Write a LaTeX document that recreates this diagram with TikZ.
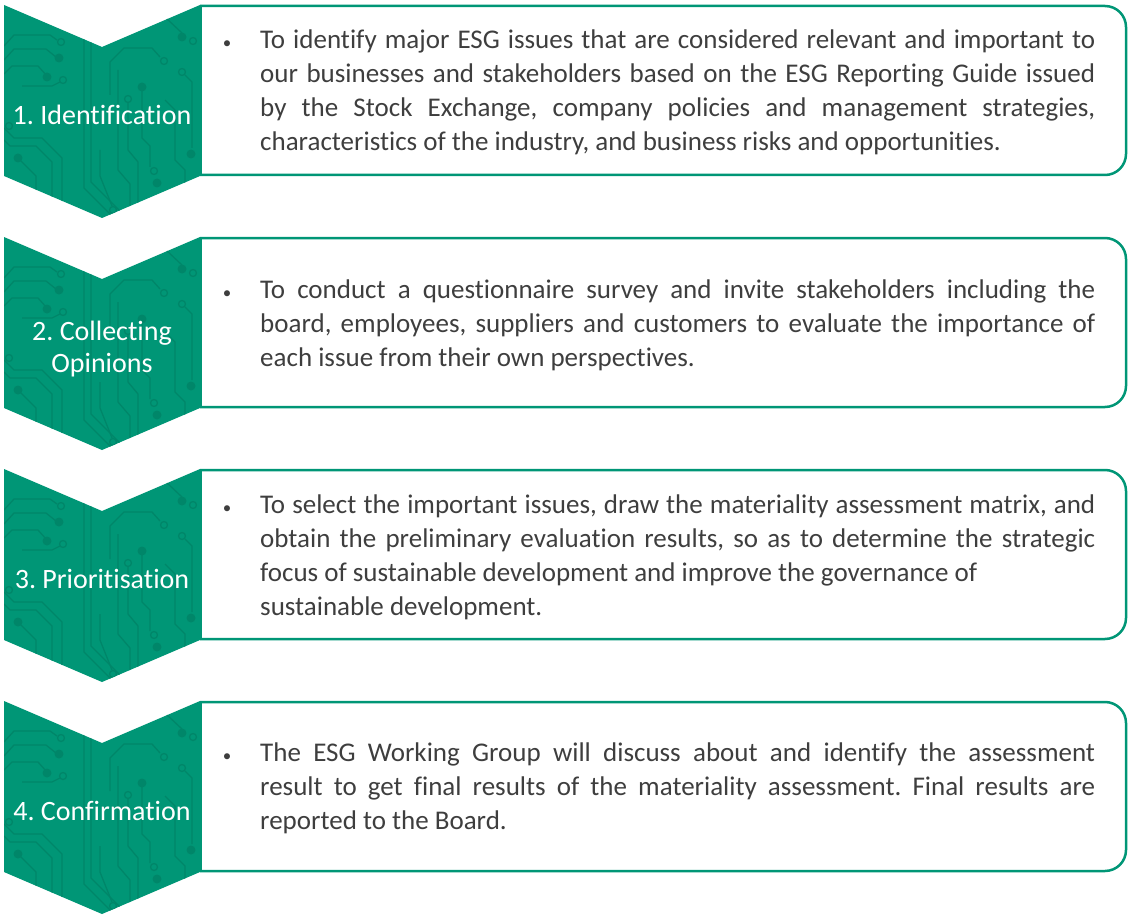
\documentclass[tikz,border=0pt]{standalone}
\usepackage{fontspec}
\setmainfont{Carlito}[Ligatures=CommonOff]
\frenchspacing
\definecolor{esggreen}{RGB}{0,150,118}
\definecolor{esgtrace}{RGB}{0,134,105}
\definecolor{esgtext}{RGB}{62,62,62}

\begin{document}
\begin{tikzpicture}[x=1pt,y=-1pt,
    steplabel/.style={text=white,align=center,inner sep=0pt,
      font=\fontsize{28}{32}\selectfont},
    stepbody/.style={anchor=west,text=esgtext,text width=835pt,align=justify,
      inner sep=0pt,font=\fontsize{27}{34}\selectfont},
    stepdot/.style={anchor=base,text=esgtext,inner sep=0pt,
      font=\fontsize{17}{17}\selectfont},
    stepframe/.style={draw=esggreen,line width=2.5pt},
    trace/.style={draw=esgtrace,line width=1.3pt},
    pad/.style={draw=esgtrace,line width=1.3pt},
    via/.style={fill=esgtrace}]
\useasboundingbox (0,0) rectangle (1128,915);

% frames and chevrons, one per step
\foreach \dy in {0,232,464,696}{
  \begin{scope}[yshift=-\dy pt]
    \draw[stepframe,rounded corners=21pt] (200,6) -- (1126,6) -- (1126,175) -- (200,175);
    \fill[esggreen] (4,5) -- (102,47) -- (200,5) -- (200,176) -- (102,218) -- (4,176) -- cycle;
    \begin{scope}
      \clip (4,5) -- (102,47) -- (200,5) -- (200,176) -- (102,218) -- (4,176) -- cycle;
      % circuit traces
      \draw[trace] (4,46) -- (14,35) -- (50,35) -- (57,40);
      \draw[pad] (61,42) circle (3.5);
      \draw[trace] (4,60) -- (14,49) -- (46,49) -- (56,57);
      \fill[via] (59,58) circle (4.5);
      \draw[trace] (4,74) -- (12,66) -- (38,66) -- (47,76);
      \fill[via] (47,77) circle (4.5);
      \draw[trace] (22,86) -- (52,86) -- (60,82);
      \draw[pad] (63,80) circle (3.5);
      \draw[trace] (84,38) -- (84,188) -- (112,216);
      \draw[trace] (91,42) -- (91,182) -- (120,211);
      \draw[trace] (100,150) -- (100,176) -- (112,206);
      \draw[pad] (113,210) circle (3.5);
      \draw[trace] (4,128) -- (14,138) -- (42,138) -- (62,158) -- (62,215);
      \draw[trace] (4,140) -- (10,146) -- (36,146) -- (52,162) -- (52,215);
      \fill[via] (18,158) circle (4.5);
      \draw[trace] (18,158) -- (36,176) -- (36,215);
      \draw[pad] (9,126) circle (3.5);
      \draw[trace] (110,95) -- (110,62) -- (124,48) -- (152,48) -- (160,57);
      \draw[pad] (164,61) circle (3.5);
      \fill[via] (142,87) circle (4.5);
      \draw[trace] (142,87) -- (142,138) -- (150,146) -- (150,167);
      \draw[pad] (154,171) circle (3.5);
      \draw[pad] (128,99) circle (3.5);
      \draw[trace] (128,103) -- (128,150) -- (138,162) -- (138,215);
      \fill[via] (157,183) circle (4.5);
      \draw[trace] (118,70) -- (118,170) -- (130,184) -- (130,215);
      \fill[via] (182,37) circle (4.5);
      \draw[pad] (193,41) circle (3.5);
      \draw[trace] (166,18) -- (182,33);
      \draw[pad] (182,72) circle (3.5);
      \draw[trace] (185,75) -- (192,82) -- (192,148);
      \fill[via] (191,154) circle (4.5);
      \draw[trace] (165,100) -- (175,110) -- (175,160) -- (185,170) -- (185,215);
    \end{scope}
    \draw[esggreen,line width=2pt] (200.5,5) -- (200.5,176);
  \end{scope}
}

% step names
\node[steplabel] (lab1) at (102,115) {1. Identification};
\node[steplabel] (lab2) at (102,349) {2. Collecting\\Opinions};
\node[steplabel] (lab3) at (102,579) {3. Prioritisation};
\node[steplabel] (lab4) at (102,811) {4. Confirmation};

% step descriptions
\node[stepbody] (txt1) at (260,92) {To identify major ESG issues that are considered relevant and important to\linebreak
  our businesses and stakeholders based on the ESG Reporting Guide issued\linebreak
  by the Stock Exchange, company policies and management strategies,\linebreak
  characteristics of the industry, and business risks and opportunities.};
\node[stepbody] (txt2) at (260,325) {To conduct a questionnaire survey and invite stakeholders including the\linebreak
  board, employees, suppliers and customers to evaluate the importance of\linebreak
  each issue from their own perspectives.};
\node[stepbody] (txt3) at (260,557) {To select the important issues, draw the materiality assessment matrix, and\linebreak
  obtain the preliminary evaluation results, so as to determine the strategic\linebreak
  focus of sustainable development and improve the governance of\\
  sustainable development.};
\node[stepbody] (txt4) at (260,788) {The ESG Working Group will discuss about and identify the assessment\linebreak
  result to get final results of the materiality assessment. Final results are\linebreak
  reported to the Board.};

% bullets
\node[stepdot] (dot1) at ([xshift=-33pt]txt1.base west) {•};
\node[stepdot] (dot2) at ([xshift=-33pt]txt2.base west) {•};
\node[stepdot] (dot3) at ([xshift=-33pt]txt3.base west) {•};
\node[stepdot] (dot4) at ([xshift=-33pt]txt4.base west) {•};
\end{tikzpicture}
\end{document}
